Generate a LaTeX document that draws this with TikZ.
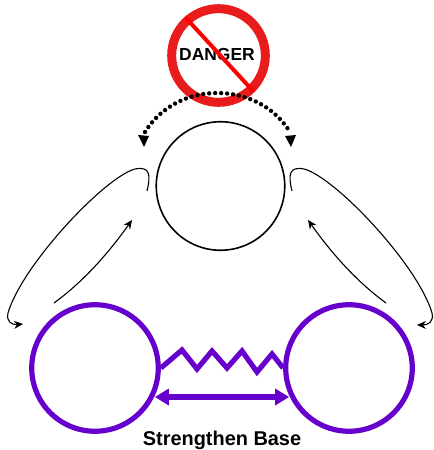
\documentclass[tikz,border=0pt]{standalone}
\usepackage{xcolor}
\usepackage{fontspec}
\setmainfont{Liberation Sans}
\usetikzlibrary{arrows.meta,positioning,calc}
\definecolor{violet}{HTML}{6600CC}
\definecolor{alarm}{HTML}{E81C1C}
\tikzset{
  ringbox/.style={circle, draw=black, line width=1.6pt, inner sep=0pt, minimum size=129pt},
  basebox/.style={circle, draw=violet, line width=5.2pt, inner sep=0pt, minimum size=127pt},
  signbox/.style={circle, draw=alarm, line width=9pt, inner sep=0pt, minimum size=94pt},
  lbl/.style={font=\bfseries\fontsize{20}{22}\selectfont, text=black},
  flow/.style={-{Stealth[length=9pt,width=8pt]}, draw=black, line width=1.1pt},
  swing/.style={draw=black, line width=4.4pt, line cap=round, dash pattern=on 0pt off 6pt},
  link/.style={draw=violet, line width=5.2pt},
}
\begin{document}
\begin{tikzpicture}[x=1bp,y=-1bp]
\useasboundingbox (0,0) rectangle (434,450);
\node[ringbox] (top) at (220.5,186) {};
\node[basebox] (left) at (95,368) {};
\node[basebox] (right) at (349,368) {};
\node[signbox] (sign) at (218.5,55.5) {};
\node[lbl, font=\bfseries\fontsize{17.5}{20}\selectfont] (danger) at (217,55) {DANGER};
\node[lbl] (base) at (222,440) {Strengthen Base};
% no-entry bar
\draw[draw=red, line width=4pt] ($(sign.135)+(3,-2)$) -- ($(sign.-45)+(-1,0)$);
% pressure on the top circle
\coordinate (dl) at (145,132);
\coordinate (dr) at (290,132);
\draw[swing] (dl) .. controls (162,105) and (190,93) .. (217,93) .. controls (245,93) and (273,105) .. (dr);
\fill (144,147) -- (138,135) -- (149,136) -- cycle;
\fill (291,147) -- (285,136) -- (296,135) -- cycle;
% outer loops
\coordinate (la) at (147,191);
\coordinate (lb) at (23,324);
\coordinate (ra) at (292,191);
\coordinate (rb) at (417,325);
\draw[flow] (la) .. controls (151,175) and (150,166) .. (135,169) .. controls (105,177) and (22,265) .. (8,313) .. controls (6,322) and (12,325) .. (lb);
\draw[flow] (ra) .. controls (288,175) and (289,166) .. (304,169) .. controls (335,177) and (418,265) .. (432,313) .. controls (434,322) and (428,325) .. (rb);
% inner arrows
\coordinate (lc) at (54,303);
\coordinate (ld) at (132,220);
\coordinate (rc) at (386,303);
\coordinate (rd) at (308,220);
\draw[flow] (lc) .. controls (80,284) and (105,258) .. (ld);
\draw[flow] (rc) .. controls (360,284) and (335,258) .. (rd);
% spring between the base circles
\draw[link] (left.east) -- (182,350) -- (197,369) -- (212,351) -- (227,368) -- (242,351) -- (257,372) -- (272,354) -- (right.west);
\draw[{Triangle[length=14pt,width=16pt]}-{Triangle[length=14pt,width=16pt]}, link] ($(left.east)+(-6,29)$) -- ($(right.west)+(6,29)$);
\end{tikzpicture}
\end{document}
